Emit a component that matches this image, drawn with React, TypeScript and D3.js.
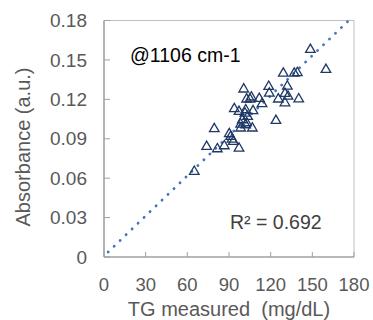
import React from "react";
import * as d3 from "d3";

const tgMeasured = [65.0, 73.9, 79.4, 81.6, 86.6, 90.2, 91.2, 92.2, 93.1, 93.8, 97.2, 97.2, 98.4, 99.6, 100.6, 102.0, 102.7, 102.0, 103.4, 105.1, 106.1, 106.8, 107.3, 111.8, 113.8, 118.6, 119.0, 123.8, 125.5, 129.1, 130.3, 132.0, 132.5, 137.0, 139.2, 140.2, 148.6, 159.8, 98.4, 101.5, 102.7, 130.3];
const absorbance = [0.065, 0.084, 0.0975, 0.0822, 0.0845, 0.0937, 0.0916, 0.0896, 0.0878, 0.1127, 0.0827, 0.1106, 0.098, 0.1043, 0.1277, 0.1119, 0.1201, 0.1005, 0.1068, 0.1201, 0.1216, 0.098, 0.1112, 0.1205, 0.1165, 0.1297, 0.1246, 0.1038, 0.1201, 0.1397, 0.1172, 0.1299, 0.1223, 0.1397, 0.1402, 0.1202, 0.1578, 0.1426, 0.101, 0.1094, 0.102, 0.1243];

const xTicks = [0, 30, 60, 90, 120, 150, 180];
const yTicks = [0, 0.03, 0.06, 0.09, 0.12, 0.15, 0.18];
const yTickLabels = ["0", "0.03", "0.06", "0.09", "0.12", "0.15", "0.18"];
const trendX = [3, 175.5];
const trendSlope = 0.001017;
const trendIntercept = 0.0008;

export default function App() {
  const W = 373, H = 320;
  const left = 104, right = 354, top = 20.5, bottom = 257;
  const x = d3.scaleLinear().domain([0, 180]).range([left, right]);
  const y = d3.scaleLinear().domain([0, 0.18]).range([bottom, top]);
  const font = "Liberation Sans, Arial, sans-serif";
  const tri = d3.symbol().type(d3.symbolTriangle).size(40)();
  const trendLine = d3.line<number>().x((v) => x(v)).y((v) => y(trendSlope * v + trendIntercept))(trendX) || "";
  const points = tgMeasured.map((v, i) => [v, absorbance[i]]);

  return (
    <svg width={W} height={H} style={{ position: "absolute", left: 0, top: 0, background: "#fff" }} fontFamily={font}>
      <rect x={0} y={0} width={W} height={H} fill="#fff" />
      <line x1={left} x2={right} y1={top} y2={top} stroke="#bfbfbf" strokeWidth={1} />
      <line x1={right} x2={right} y1={top} y2={bottom} stroke="#bfbfbf" strokeWidth={1} />
      <line x1={left} x2={left} y1={top} y2={bottom} stroke="#a0a0a0" strokeWidth={1.6} />
      <line x1={left} x2={right} y1={bottom} y2={bottom} stroke="#a0a0a0" strokeWidth={1.6} />
      {xTicks.map((t) => (
        <g key={"x" + t}>
          <line x1={x(t)} x2={x(t)} y1={bottom} y2={bottom - 5} stroke="#a0a0a0" strokeWidth={1} />
          <text x={x(t)} y={291} textAnchor="middle" fontSize={18.5} fill="#595959">{t}</text>
        </g>
      ))}
      {yTicks.map((t, i) => (
        <g key={"y" + t}>
          <line x1={left} x2={left + 6} y1={y(t)} y2={y(t)} stroke="#a0a0a0" strokeWidth={1} />
          <text x={87} y={y(t) + 6.7} textAnchor="end" fontSize={19} fill="#595959">{yTickLabels[i]}</text>
        </g>
      ))}
      <path d={trendLine} fill="none" stroke="#4472c4" strokeWidth={2.8} strokeDasharray="0.1 8.2" strokeLinecap="round" />
      {points.map((p, i) => (
        <path key={i} d={tri} transform={`translate(${x(p[0])},${y(p[1])})`} fill="none" stroke="#1f3864" strokeWidth={1.3} />
      ))}
      <text x={130} y={62} fontSize={19.5} fill="#000">@1106 cm-1</text>
      <text x={230} y={229} fontSize={19.5} fill="#404040">R² = 0.692</text>
      <text x={229} y={316} textAnchor="middle" fontSize={20} fill="#595959" xmlSpace="preserve">TG measured  (mg/dL)</text>
      <text transform={`translate(30,147) rotate(-90)`} textAnchor="middle" fontSize={20} fill="#595959">Absorbance (a.u.)</text>
    </svg>
  );
}
